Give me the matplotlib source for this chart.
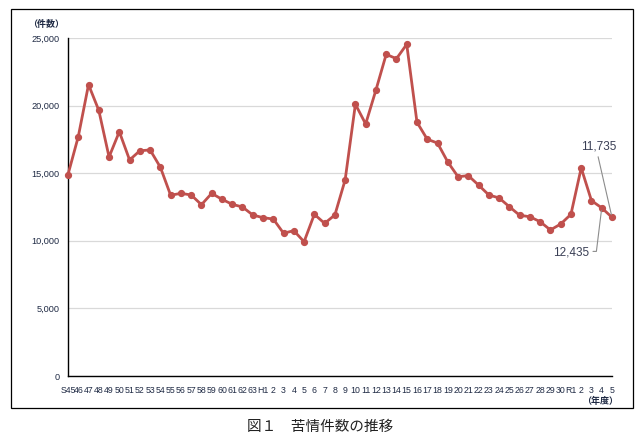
import matplotlib
matplotlib.use("Agg")
import matplotlib.pyplot as plt
from matplotlib.patches import Rectangle
from matplotlib import font_manager

years = (['S45'] + [str(y) for y in range(46, 64)] +
         ['H1'] + [str(y) for y in range(2, 31)] +
         ['R1', '2', '3', '4', '5'])
counts = [14900, 17700, 21550, 19650, 16200, 18070, 15980, 16660, 16720, 15440,
          13370, 13510, 13390, 12670, 13510, 13070, 12700, 12500, 11910,
          11710, 11610, 10560, 10750, 9930, 11960, 11290, 11910, 14500, 20100,
          18640, 21150, 23790, 23470, 24530, 18770, 17510, 17230, 15830, 14740,
          14820, 14120, 13390, 13170, 12520, 11890, 11780, 11410, 10800, 11240,
          11960, 15390, 12970, 12435, 11735]
yticks = [0, 5000, 10000, 15000, 20000, 25000]

names = {f.name for f in font_manager.fontManager.ttflist}
narrow = 'Liberation Sans Narrow' if 'Liberation Sans Narrow' in names else 'Liberation Sans'
cjk = ['Noto Sans CJK JP', 'DejaVu Sans']
tick_color = '#1F2A44'
red = '#C0504D'

fig = plt.figure(figsize=(6.44, 4.40), dpi=100)
fig.patches.append(Rectangle((10.5/644, 1 - 408/440), (632.5-10.5)/644, (408-9)/440,
                             transform=fig.transFigure, fill=False, edgecolor='black',
                             linewidth=0.9, zorder=0))
ax = fig.add_axes([68/644, 1 - 376/440, (612-68)/644, (376-38)/440])

x = list(range(len(years)))
ax.plot(x, counts, color=red, linewidth=2.0, marker='o', markersize=4.2,
        markerfacecolor=red, markeredgecolor=red, zorder=3, clip_on=False)

ax.set_xlim(0, len(years) - 1)
ax.set_ylim(0, 25000)
ax.set_yticks(yticks)
ax.set_yticklabels([f'{v:,}' for v in yticks], fontfamily='Liberation Sans',
                   fontsize=6.6, color=tick_color)
ax.set_xticks(x)
ax.set_xticklabels(years, fontfamily=narrow, fontsize=6.3, color=tick_color)
ax.tick_params(axis='y', length=0, pad=6)
ax.tick_params(axis='x', length=0, pad=7)
ax.grid(axis='y', color='#D9D9D9', linewidth=0.9)
ax.set_axisbelow(True)
for s in ['top', 'right']:
    ax.spines[s].set_visible(False)
for s in ['left', 'bottom']:
    ax.spines[s].set_color('black')
    ax.spines[s].set_linewidth(1.0)

fig.text(46/644, 1 - 24/440, '（件数）', family=cjk, fontsize=6.5, fontweight='bold',
         color=tick_color, ha='center', va='center')
fig.text(600/644, 1 - 401/440, '（年度）', family=cjk, fontsize=6.5, fontweight='bold',
         color=tick_color, ha='center', va='center')
fig.text(320/644, 1 - 427/440, '図１　苦情件数の推移', family=cjk, fontsize=10.5,
         color='#222222', ha='center', va='center')

n = len(years)
ax.annotate(f'{counts[n-1]:,}', xy=(n - 1, counts[n-1]), xytext=(-9.4, 50.9),
            textcoords='offset points', ha='center', va='center', fontsize=8.5,
            fontfamily='Liberation Sans', color='#3A3F55',
            arrowprops=dict(arrowstyle='-', color='#8C8C8C', lw=0.8,
                            shrinkA=1, shrinkB=2, relpos=(0.45, 0)))
ax.annotate(f'{counts[n-2]:,}', xy=(n - 2, counts[n-2]), xytext=(-22.3, -32.2),
            textcoords='offset points', ha='center', va='center', fontsize=8.5,
            fontfamily='Liberation Sans', color='#3A3F55',
            arrowprops=dict(arrowstyle='-', color='#8C8C8C', lw=0.8,
                            shrinkA=1, shrinkB=2, relpos=(1, 0.6),
                            connectionstyle='angle,angleA=0,angleB=83,rad=0'))

fig.savefig('out.png', dpi=100)
